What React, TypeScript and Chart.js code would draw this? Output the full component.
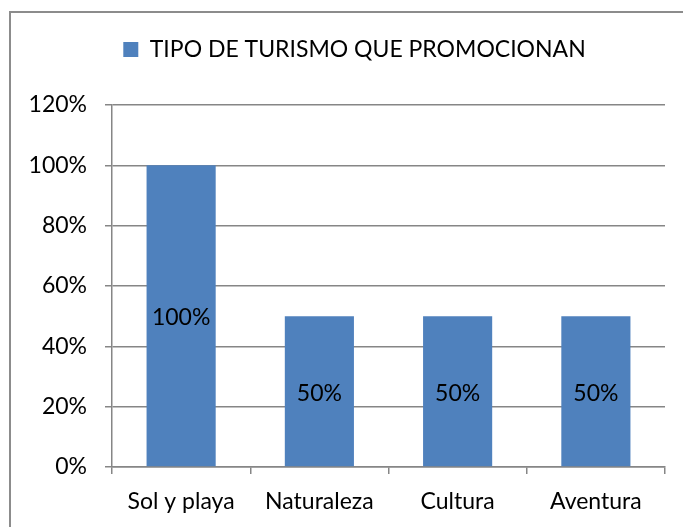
import React, { useEffect, useRef } from "react";
import { Chart, registerables } from "chart.js";

Chart.register(...registerables);

const categories = ["Sol y playa", "Naturaleza", "Cultura", "Aventura"];
const seriesName = "TIPO DE TURISMO QUE PROMOCIONAN";
const values = [1.0, 0.5, 0.5, 0.5];
const yTicks = [0, 0.2, 0.4, 0.6, 0.8, 1.0, 1.2];

const FONT = "Lato, 'Open Sans', sans-serif";
const FS = 23;
const BAR = "#4F81BD";
const GRID = "#868686";

const fmt = (v: number) => `${Math.round(v * 100)}%`;

const framePlugin = {
  id: "frame",
  beforeDraw(chart: any) {
    const ctx = chart.ctx;
    ctx.save();
    ctx.strokeStyle = "#8c8c8c";
    ctx.lineWidth = 2;
    ctx.strokeRect(10, 12, 700, 560);
    ctx.restore();
  },
};

const legendTweak = {
  id: "legendTweak",
  beforeInit(chart: any) {
    const lg = chart.legend;
    if (lg) {
      const orig = lg.fit;
      lg.fit = function () {
        orig.call(this);
        this.height = 105;
      };
    }
  },
  afterLayout(chart: any) {
    const lg = chart.legend;
    if (lg) {
      lg.left += 22;
      lg.right += 22;
    }
  },
};

const valueLabels = {
  id: "valueLabels",
  afterDatasetsDraw(chart: any) {
    const ctx = chart.ctx;
    const meta = chart.getDatasetMeta(0);
    ctx.save();
    ctx.fillStyle = "#000";
    ctx.font = `${FS}px ${FONT}`;
    ctx.textAlign = "center";
    ctx.textBaseline = "middle";
    meta.data.forEach((bar: any, i: number) => {
      const yMid = (bar.y + bar.base) / 2;
      ctx.fillText(fmt(values[i]), bar.x, yMid + 2);
    });
    ctx.restore();
  },
};

export default function App() {
  const ref = useRef<HTMLCanvasElement | null>(null);

  useEffect(() => {
    if (!ref.current) return;
    const chart = new Chart(ref.current, {
      type: "bar",
      data: {
        labels: categories,
        datasets: [
          {
            label: seriesName,
            data: values,
            backgroundColor: BAR,
            borderWidth: 0,
            barPercentage: 0.5,
            categoryPercentage: 1,
          },
        ],
      },
      options: {
        animation: false,
        responsive: true,
        maintainAspectRatio: false,
        layout: { padding: { top: 0, left: 0, right: 18, bottom: 0 } },
        plugins: {
          legend: {
            display: true,
            position: "top",
            align: "center",
            labels: {
              boxWidth: 15,
              boxHeight: 15,
              padding: 38,
              color: "#000",
              font: { family: FONT, size: FS },
            },
          },
          tooltip: { enabled: false },
        },
        scales: {
          x: {
            offset: true,
            grid: {
              offset: true,
              drawOnChartArea: false,
              drawTicks: true,
              tickLength: 7,
              color: GRID,
              lineWidth: 1.5,
            },
            border: { display: true, color: GRID, width: 1.5 },
            ticks: {
              color: "#000",
              padding: 14,
              font: { family: FONT, size: FS },
            },
            afterFit(scale: any) {
              scale.height = 527 - 467;
            },
          },
          y: {
            min: 0,
            max: 1.2,
            afterBuildTicks(scale: any) {
              scale.ticks = yTicks.map((v) => ({ value: v }));
            },
            grid: {
              drawOnChartArea: true,
              drawTicks: true,
              tickLength: 7,
              color: GRID,
              lineWidth: 1.5,
            },
            border: { display: true, color: GRID, width: 1.5 },
            ticks: {
              color: "#000",
              padding: 18,
              font: { family: FONT, size: FS },
              callback: (v: any) => fmt(Number(v)),
            },
            afterFit(scale: any) {
              scale.width = 112;
            },
          },
        },
      },
      plugins: [framePlugin, legendTweak, valueLabels],
    });
    return () => chart.destroy();
  }, []);

  return (
    <div style={{ position: "fixed", left: 0, top: 0, width: 683, height: 527, background: "#fff" }}>
      <canvas ref={ref} />
    </div>
  );
}
